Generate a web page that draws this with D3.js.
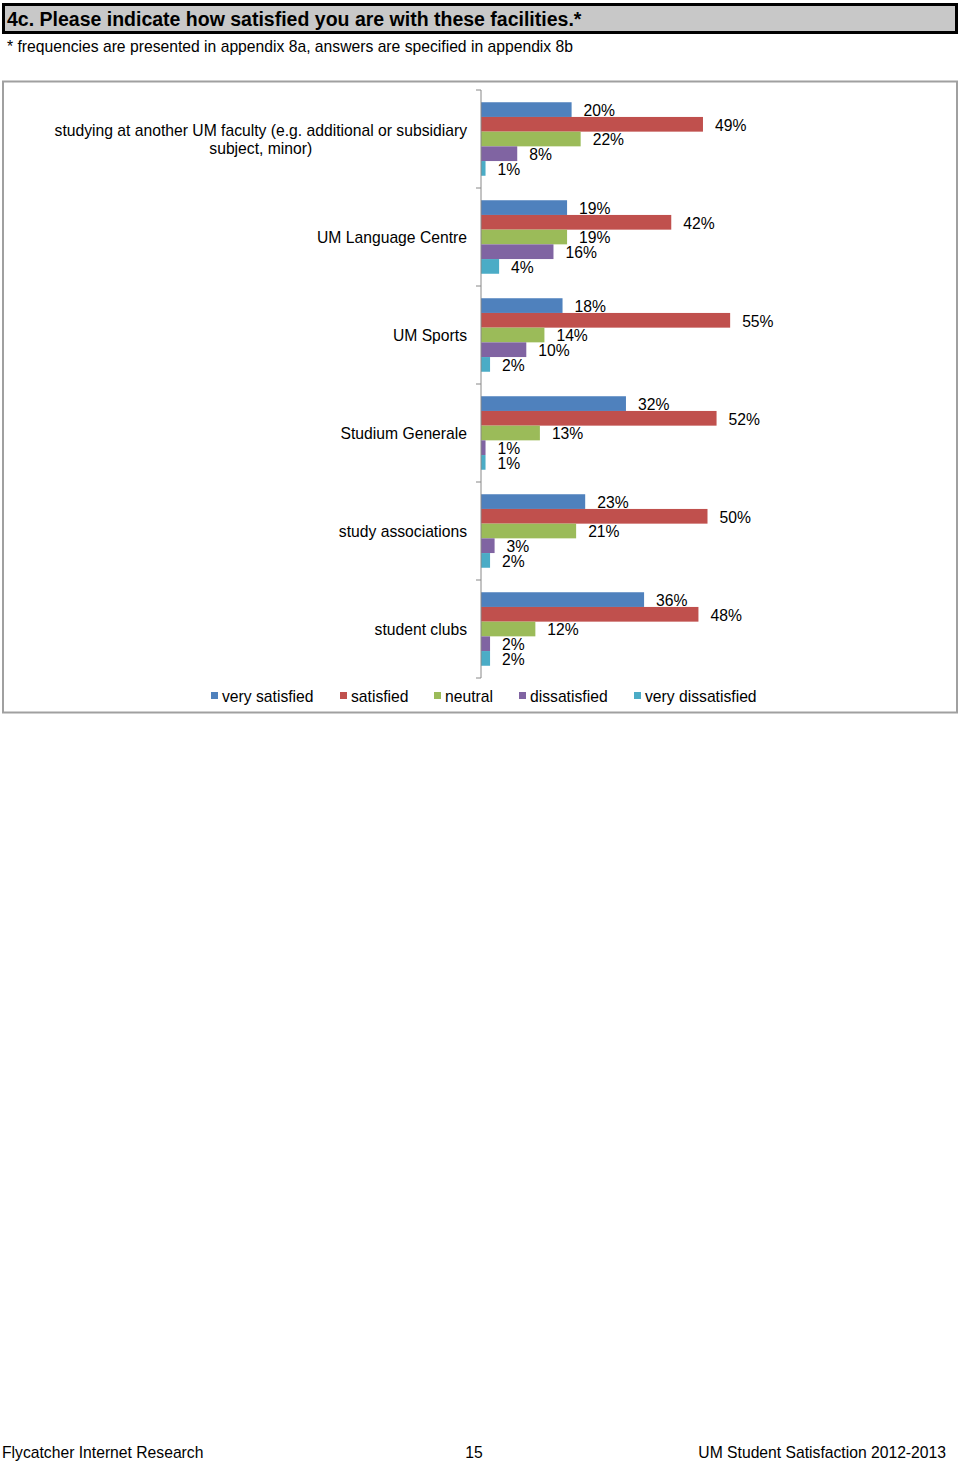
<!DOCTYPE html>
<html>
<head>
<meta charset="utf-8">
<script src="https://cdn.jsdelivr.net/npm/d3@7"></script>
<style>
  html, body { margin: 0; padding: 0; background: #fff; }
  svg { display: block; font-family: "Liberation Sans", Arial, Helvetica, sans-serif; }
</style>
</head>
<body>
<svg id="chart" width="960" height="1464"></svg>
<script>
const categories = [
  ["studying at another UM faculty (e.g. additional or subsidiary", "subject, minor)"],
  ["UM Language Centre"],
  ["UM Sports"],
  ["Studium Generale"],
  ["study associations"],
  ["student clubs"]
];
const seriesNames = ["very satisfied", "satisfied", "neutral", "dissatisfied", "very dissatisfied"];
const verySatisfied    = [20, 19, 18, 32, 23, 36];
const satisfied        = [49, 42, 55, 52, 50, 48];
const neutral          = [22, 19, 14, 13, 21, 12];
const dissatisfied     = [8, 16, 10, 1, 3, 2];
const veryDissatisfied = [1, 4, 2, 1, 2, 2];
const seriesColors = ["#4F81BD", "#C0504D", "#9BBB59", "#8064A2", "#4BACC6"];

const seriesValues = [verySatisfied, satisfied, neutral, dissatisfied, veryDissatisfied];
const svg = d3.select("#chart");
const FS = 15.7;

// Title box
svg.append("rect").attr("x", 3.5).attr("y", 4.5).attr("width", 953).attr("height", 28)
  .attr("fill", "#c8c8c8").attr("stroke", "#000").attr("stroke-width", 3);
svg.append("text").attr("x", 7).attr("y", 25.5).attr("font-size", 19.5).attr("font-weight", "bold")
  .text("4c. Please indicate how satisfied you are with these facilities.*");
svg.append("text").attr("x", 7).attr("y", 52).attr("font-size", FS)
  .text("* frequencies are presented in appendix 8a, answers are specified in appendix 8b");

// Chart frame
svg.append("rect").attr("x", 3).attr("y", 81.5).attr("width", 954).attr("height", 631)
  .attr("fill", "#fff").attr("stroke", "#a0a0a0").attr("stroke-width", 2);

const x = d3.scaleLinear().domain([0, 100]).range([481, 934]);
const y = d3.scaleBand().domain(d3.range(categories.length)).range([90, 678]).paddingInner(0).paddingOuter(0);
const ys = d3.scaleBand().domain(d3.range(seriesNames.length)).range([0, y.bandwidth()]).paddingInner(0).paddingOuter(0.833);

const groups = svg.append("g").selectAll("g").data(categories).join("g")
  .attr("transform", (d, i) => `translate(0,${y(i)})`);

groups.each(function(cat, ci) {
  const g = d3.select(this);
  seriesNames.forEach((s, si) => {
    const v = seriesValues[si][ci];
    g.append("rect").attr("x", x(0)).attr("y", ys(si)).attr("width", x(v) - x(0))
      .attr("height", ys.bandwidth()).attr("fill", seriesColors[si]);
    g.append("text").attr("x", x(v) + 12).attr("y", ys(si) + ys.bandwidth() / 2 + 1)
      .attr("dy", "0.35em").attr("font-size", FS).attr("fill", "#000").text(v + "%");
  });
  const lines = cat;
  const lh = 18;
  const cy = y.bandwidth() / 2 + 1;
  const t = g.append("text").attr("font-size", FS).attr("fill", "#000");
  lines.forEach((l, li) => {
    t.append("tspan").attr("y", cy + (li - (lines.length - 1) / 2) * lh).attr("dy", "0.35em").text(l);
  });
  const spans = t.selectAll("tspan").nodes();
  const maxW = d3.max(spans.map(n => n.getComputedTextLength()));
  spans.forEach(n => d3.select(n).attr("x", 467 - maxW / 2).attr("text-anchor", "middle"));
});

// Axis
const axG = svg.append("g").attr("transform", `translate(${x(0)},0)`);
axG.append("line").attr("x1", 0).attr("x2", 0).attr("y1", 90).attr("y2", 678).attr("stroke", "#888").attr("stroke-width", 1);
const bounds = d3.range(categories.length + 1).map(i => i < categories.length ? y(i) : y(categories.length - 1) + y.bandwidth());
axG.selectAll("line.tick").data(bounds).join("line").attr("class", "tick")
  .attr("x1", -5).attr("x2", 0).attr("y1", d => d).attr("y2", d => d).attr("stroke", "#888");

// Legend
const legendX = [211, 340, 434, 519, 634];
const lg = svg.append("g").selectAll("g").data(seriesNames).join("g")
  .attr("transform", (d, i) => `translate(${legendX[i]},696)`);
lg.append("rect").attr("x", 0).attr("y", -4).attr("width", 7).attr("height", 7).attr("fill", (d, i) => seriesColors[i]);
lg.append("text").attr("x", 11).attr("dy", "0.35em").attr("font-size", FS).text(d => d);

// Footer
svg.append("text").attr("x", 2).attr("y", 1458).attr("font-size", FS).text("Flycatcher Internet Research");
svg.append("text").attr("x", 474).attr("y", 1458).attr("font-size", FS).attr("text-anchor", "middle").text("15");
svg.append("text").attr("x", 946).attr("y", 1458).attr("font-size", FS).attr("text-anchor", "end").text("UM Student Satisfaction 2012-2013");
</script>
</body>
</html>
